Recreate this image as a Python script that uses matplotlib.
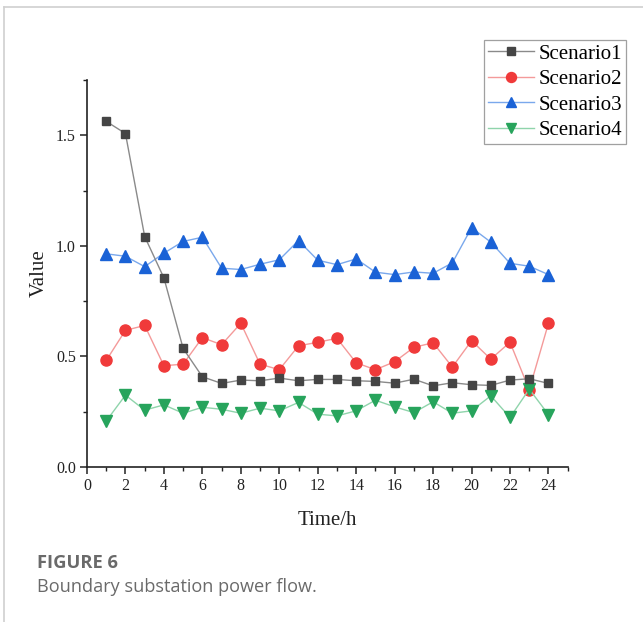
import matplotlib
matplotlib.use("Agg")
import matplotlib.pyplot as plt
from matplotlib.ticker import MultipleLocator
from matplotlib.lines import Line2D

hours = list(range(1, 25))
scenario1 = [1.563, 1.508, 1.042, 0.855, 0.536, 0.408, 0.378, 0.393, 0.390, 0.402, 0.390, 0.396,
             0.396, 0.390, 0.387, 0.379, 0.397, 0.367, 0.381, 0.372, 0.369, 0.393, 0.399, 0.378]
scenario2 = [0.482, 0.618, 0.640, 0.458, 0.465, 0.585, 0.553, 0.650, 0.465, 0.440, 0.548, 0.564,
             0.582, 0.471, 0.440, 0.476, 0.541, 0.562, 0.452, 0.571, 0.488, 0.564, 0.349, 0.650]
scenario3 = [0.964, 0.953, 0.906, 0.967, 1.020, 1.039, 0.899, 0.893, 0.917, 0.937, 1.024, 0.935,
             0.915, 0.941, 0.881, 0.870, 0.882, 0.876, 0.923, 1.082, 1.017, 0.921, 0.908, 0.870]
scenario4 = [0.208, 0.325, 0.257, 0.281, 0.243, 0.270, 0.261, 0.243, 0.266, 0.254, 0.292, 0.239,
             0.231, 0.254, 0.302, 0.272, 0.246, 0.295, 0.243, 0.254, 0.322, 0.224, 0.352, 0.237]
labels = ["Scenario1", "Scenario2", "Scenario3", "Scenario4"]
xticks = list(range(0, 25, 2))
yticks = [0.0, 0.5, 1.0, 1.5]

serif = ["Liberation Serif", "DejaVu Serif"]

fig = plt.figure(figsize=(6.43, 6.22), dpi=100)
ax = fig.add_axes([87/643, 1-467/622, (567.7-87)/643, (467-80)/622])

styles = [
    dict(color="#8a8a8a", marker="s", mfc="#454545", mec="#454545", ms=6.3, z=5),
    dict(color="#f49a9a", marker="o", mfc="#f03a3a", mec="#f03a3a", ms=8, z=2),
    dict(color="#7aa8ec", marker="^", mfc="#1a62d6", mec="#1a62d6", ms=8, z=3),
    dict(color="#8fd4ab", marker="v", mfc="#27a45c", mec="#27a45c", ms=8, z=4),
]
series = [scenario1, scenario2, scenario3, scenario4]
handles = []
for s, st, lab in zip(series, styles, labels):
    ax.plot(hours, s, color=st["color"], lw=1.0, marker=st["marker"], mfc=st["mfc"],
            mec=st["mec"], ms=st["ms"], zorder=st["z"], label=lab)
    handles.append(Line2D([], [], color=st["color"], lw=1.0, marker=st["marker"], mfc=st["mfc"],
                          mec=st["mec"], ms=st["ms"]*0.9))

ax.set_xlim(0, 25)
ax.set_ylim(0, 1.75)
ax.spines["top"].set_visible(False)
ax.spines["right"].set_visible(False)
for sp in ("left", "bottom"):
    ax.spines[sp].set_linewidth(1.2)
    ax.spines[sp].set_color("#222222")
ax.set_xticks(xticks)
ax.set_yticks(yticks)
ax.set_yticklabels([f"{v:.1f}" for v in yticks])
ax.xaxis.set_minor_locator(MultipleLocator(1))
ax.yaxis.set_minor_locator(MultipleLocator(0.25))
ax.tick_params(which="major", direction="out", length=5, width=1.1, colors="#222222",
               labelsize=11.5, labelcolor="#222222", pad=3)
ax.tick_params(which="minor", direction="out", length=3, width=1.0, colors="#222222")
for lbl in ax.get_xticklabels() + ax.get_yticklabels():
    lbl.set_family(serif)

ax.set_xlabel("Time/h", family=serif, fontsize=15, color="#222222", labelpad=12)
ax.set_ylabel("Value", family=serif, fontsize=15, color="#222222", labelpad=5)

leg = fig.legend(handles, labels, loc="upper left", bbox_to_anchor=(484/643, 1-40/622),
                 prop={"family": serif, "size": 15}, frameon=True, fancybox=False,
                 edgecolor="#888888", borderpad=0.2, handlelength=2.2, handletextpad=0.2,
                 labelspacing=0.28, borderaxespad=0)
leg.get_frame().set_linewidth(0.9)

# page frame lines
fig.add_artist(Line2D([4/643, 1], [1-7/622, 1-7/622], color="#d0d0d0", lw=1.2))
fig.add_artist(Line2D([4/643, 4/643], [0, 1-7/622], color="#d0d0d0", lw=1.2))

fig.text(37/643, 1-563/622, "FIGURE 6", family=["Open Sans", "DejaVu Sans"], fontweight="bold",
         fontsize=13.2, color="#6a6a6a", va="center", ha="left")
fig.text(37/643, 1-587/622, "Boundary substation power flow.", family=["Open Sans", "DejaVu Sans"],
         fontsize=13.1, color="#6a6a6a", va="center", ha="left")

fig.savefig("out.png", dpi=100)
